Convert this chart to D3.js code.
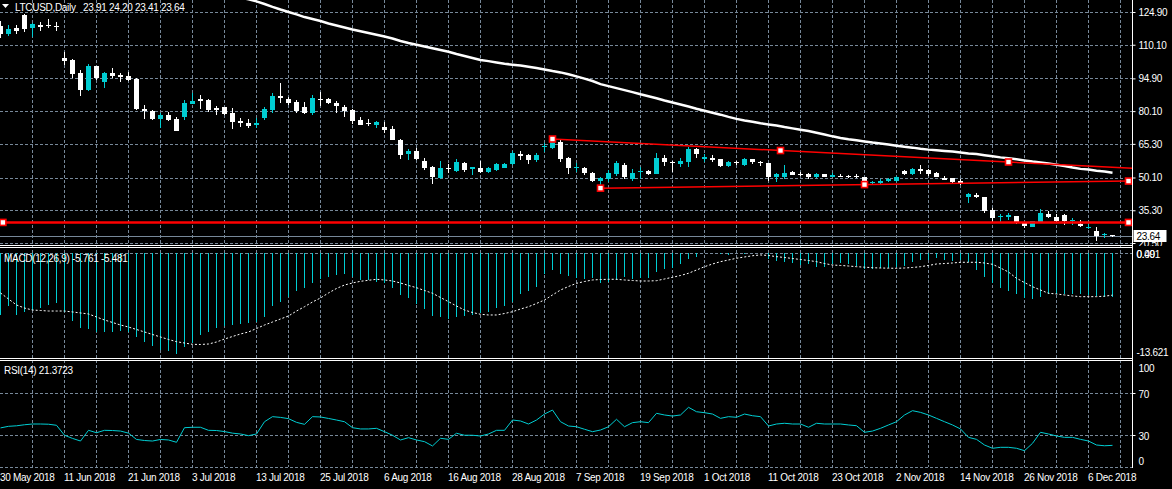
<!DOCTYPE html>
<html>
<head>
<meta charset="utf-8">
<script src="https://cdn.jsdelivr.net/npm/d3@7/dist/d3.min.js"></script>
<style>
  body { margin: 0; background: #000; }
  svg { display: block; }
  text { font-family: "Liberation Sans", Arial, sans-serif; font-size: 10px; letter-spacing: -0.3px; }
</style>
</head>
<body>
<svg id="chart" width="1172" height="489"></svg>
<script>
// daily bars, one per weekday, 30 May 2018 .. 11 Dec 2018
var opens = [118.6,114.9,117.5,123.5,117.5,119.0,119.0,118.7,104.2,103.2,
    97.4,89.6,100.6,93.4,97.4,96.4,96.0,94.8,81.1,80.2,
    76.5,78.3,76.5,77.6,83.3,85.4,85.1,81.4,81.8,79.1,
    75.8,74.6,73.8,76.9,80.6,86.9,85.6,84.1,82.1,79.1,
    85.6,85.6,83.9,82.1,80.6,76.1,74.6,73.8,73.0,72.0,
    67.0,60.7,62.2,57.6,55.0,49.7,54.5,53.0,56.8,53.8,
    54.5,52.7,53.5,54.5,56.1,60.6,60.3,58.0,63.7,63.3,
    66.3,58.8,54.2,54.5,52.0,48.5,49.4,51.7,55.7,49.4,
    52.5,53.2,51.7,59.1,57.2,56.2,57.2,63.0,58.3,58.8,
    58.3,55.3,57.1,55.8,58.5,57.2,56.5,50.2,50.2,52.5,
    51.7,51.7,50.2,51.7,50.5,50.9,50.8,50.9,50.2,47.8,
    47.5,48.7,48.4,53.2,51.6,53.9,53.5,52.3,50.0,49.7,
    48.7,41.1,42.2,41.1,35.4,32.1,32.4,32.7,30.1,27.9,
    29.7,33.6,32.4,33.1,30.4,29.1,27.4,26.0,24.1,23.91];
var highs = [120.8,119.0,119.0,124.0,120.1,120.5,121.7,120.2,106.7,103.6,
    98.7,101.4,100.6,97.9,99.4,97.2,97.9,94.9,82.9,80.6,
    79.1,79.8,77.4,85.1,88.2,87.4,85.4,82.4,82.1,81.4,
    76.9,76.5,76.9,81.8,88.2,92.7,86.6,85.1,84.4,87.4,
    88.9,86.2,84.8,82.9,80.9,77.6,76.4,75.8,75.3,73.4,
    67.5,62.8,63.3,58.8,55.3,57.6,56.2,58.5,57.2,55.0,
    57.6,55.0,56.8,56.5,62.2,62.2,60.6,61.0,65.5,67.3,
    67.3,59.2,56.8,55.0,52.7,50.5,53.5,57.7,56.5,53.8,
    55.0,53.5,61.3,60.3,57.6,58.8,63.7,63.3,60.6,60.1,
    58.5,57.7,57.6,58.8,58.5,57.7,56.8,52.3,55.7,53.0,
    52.5,52.0,52.0,51.7,52.3,51.7,51.2,51.5,50.5,48.5,
    49.3,49.7,50.8,53.5,54.2,55.7,53.8,52.7,50.8,49.7,
    49.3,43.2,43.0,41.3,36.2,33.6,33.9,32.7,30.1,30.4,
    35.7,35.1,33.6,33.5,31.9,30.9,30.4,27.6,25.1,24.20];
var lows = [113.1,114.2,115.0,116.0,113.5,116.4,117.5,116.4,100.9,94.9,
    86.9,89.3,94.2,90.7,94.9,93.4,93.8,80.6,76.5,76.1,
    72.6,75.8,71.1,76.1,83.2,81.1,79.8,78.3,78.3,72.0,
    73.0,72.3,72.3,76.1,79.4,83.6,82.9,79.1,78.8,78.3,
    82.4,83.3,79.4,77.6,74.3,73.8,73.4,72.6,70.3,67.0,
    58.5,58.0,58.0,53.5,47.1,49.4,52.0,52.7,52.7,51.2,
    52.0,52.0,53.2,54.2,55.6,58.0,56.2,57.2,61.8,62.8,
    57.2,51.7,52.7,51.2,48.2,45.6,48.2,50.8,49.4,48.6,
    49.3,51.2,51.7,55.3,52.7,55.0,55.0,58.8,57.2,57.2,
    55.0,55.0,55.7,55.4,56.2,55.4,48.5,48.2,49.4,51.2,
    50.8,49.4,49.9,50.2,50.2,50.2,49.7,49.7,46.7,47.2,
    46.7,47.9,47.9,51.2,51.2,51.7,50.9,50.2,49.0,47.5,
    46.6,38.7,41.0,34.0,29.4,30.1,30.9,29.0,27.1,27.6,
    29.4,31.7,29.7,28.6,28.6,27.6,26.7,21.5,22.6,23.41];
var closes = [114.9,117.2,116.4,117.2,119.5,118.2,118.6,118.0,102.9,96.9,
    89.6,100.6,94.9,97.4,96.1,95.7,94.2,81.1,80.2,76.5,
    78.3,76.1,71.3,83.9,84.7,84.8,80.6,80.6,78.8,75.3,
    74.6,73.5,74.6,80.9,86.9,86.2,83.9,80.2,79.4,86.2,
    85.1,83.9,82.5,80.2,75.8,73.8,74.1,75.3,71.6,67.0,
    60.3,62.2,58.5,54.5,50.5,54.5,53.8,57.2,53.5,54.7,
    52.7,54.2,56.2,56.2,61.0,60.0,58.0,60.3,64.3,66.3,
    58.5,54.2,55.0,52.0,48.6,50.0,52.0,56.8,50.2,52.3,
    53.2,51.7,58.8,57.2,56.5,57.7,63.0,60.6,59.2,58.0,
    55.4,57.2,56.5,58.5,56.9,56.5,50.5,51.7,52.0,51.2,
    51.2,50.2,51.7,50.5,51.2,50.5,50.2,50.5,47.5,48.2,
    48.7,49.3,50.5,51.7,53.9,53.0,51.7,50.5,49.0,47.9,
    47.0,42.6,41.4,35.1,31.7,32.7,33.0,30.1,28.3,30.4,
    33.9,32.4,30.4,30.4,30.7,28.2,27.7,23.7,24.5,23.64];

// moving average, from bar 30 on
var maStart = 30;
var maValues = [131.5,130.6,129.7,128.5,127.2,126.0,124.9,123.8,122.6,121.7,
    120.8,119.7,118.8,117.9,117.0,116.2,115.4,114.6,113.8,112.9,
    111.8,110.9,110.1,109.3,108.5,107.7,106.9,105.9,105.0,104.1,
    103.2,102.7,102.1,101.5,101.1,100.7,100.2,99.6,98.9,98.2,
    97.6,96.8,95.8,94.8,93.7,92.3,91.4,90.5,89.6,88.7,
    87.7,86.8,85.9,84.9,84.0,83.1,82.2,81.2,80.3,79.4,
    78.5,77.5,76.6,75.9,75.3,74.6,74.1,73.6,72.9,72.3,
    71.7,71.1,70.3,69.5,68.7,68.0,67.4,66.9,66.4,65.9,
    65.5,65.0,64.5,64.0,63.6,63.1,62.7,62.4,62.1,61.8,
    61.4,61.0,60.7,60.2,59.7,59.2,58.8,58.3,57.8,57.3,
    56.9,56.4,55.9,55.3,54.6,54.0,53.7,53.2,52.8,52.3];

var macdHist = [-8.05,-6.85,-8.05,-7.70,-7.41,-7.11,-6.76,-6.46,-7.70,-8.79,
    -9.70,-9.87,-10.21,-10.21,-10.21,-10.09,-10.21,-10.86,-11.51,-12.07,
    -12.58,-12.67,-13.06,-12.16,-11.72,-10.64,-10.21,-9.77,-9.48,-9.35,
    -9.22,-9.05,-8.92,-8.35,-6.89,-6.33,-5.76,-4.91,-4.60,-3.95,
    -3.39,-3.09,-2.87,-2.78,-3.17,-3.52,-3.52,-3.74,-3.95,-4.52,
    -5.46,-5.89,-6.67,-7.28,-8.14,-8.27,-8.57,-8.27,-8.14,-8.05,
    -7.83,-7.70,-7.19,-6.85,-6.33,-5.37,-4.95,-4.39,-2.78,-2.23,
    -2.78,-2.96,-3.22,-3.39,-3.30,-3.95,-3.82,-3.52,-3.09,-3.39,
    -3.30,-3.22,-2.52,-2.10,-1.93,-1.49,-0.80,-0.50,-0.06,-0.06,
    -0.19,-0.28,-0.06,-0.19,-0.06,-0.06,-0.80,-1.06,-1.23,-1.36,
    -1.58,-1.49,-1.80,-1.80,-1.49,-1.36,-1.49,-1.67,-2.10,-2.10,
    -1.93,-1.93,-1.80,-1.67,-1.23,-0.93,-0.93,-0.71,-0.93,-1.06,
    -0.93,-1.23,-2.23,-3.09,-3.95,-4.52,-4.95,-5.37,-5.89,-5.98,
    -5.68,-5.37,-5.37,-5.37,-5.37,-5.37,-5.46,-5.55,-5.68,-5.761];
var macdSignal = [-5.20,-5.98,-6.76,-7.15,-7.41,-7.47,-7.54,-7.54,-7.54,-7.66,
    -7.79,-7.92,-8.31,-8.70,-9.02,-9.35,-9.61,-9.93,-10.25,-10.58,
    -10.90,-11.22,-11.51,-11.68,-11.85,-11.87,-11.81,-11.55,-11.16,-10.84,
    -10.51,-10.25,-9.80,-9.35,-8.96,-8.57,-8.18,-7.54,-6.98,-6.37,
    -5.85,-5.20,-4.62,-4.17,-3.91,-3.69,-3.56,-3.43,-3.52,-3.65,
    -3.91,-4.23,-4.52,-4.88,-5.24,-5.79,-6.33,-6.89,-7.41,-7.73,
    -7.96,-8.05,-8.05,-7.86,-7.63,-7.28,-6.98,-6.56,-6.11,-5.46,
    -4.82,-4.36,-3.95,-3.72,-3.52,-3.46,-3.43,-3.43,-3.52,-3.59,
    -3.65,-3.65,-3.61,-3.39,-3.17,-2.94,-2.65,-2.23,-1.80,-1.45,
    -1.15,-0.93,-0.71,-0.54,-0.38,-0.28,-0.35,-0.50,-0.61,-0.74,
    -0.87,-1.00,-1.15,-1.39,-1.58,-1.64,-1.71,-1.80,-1.86,-1.93,
    -1.97,-1.99,-2.01,-1.97,-1.90,-1.80,-1.64,-1.45,-1.39,-1.32,
    -1.23,-1.23,-1.23,-1.32,-1.49,-1.97,-2.49,-3.30,-3.85,-4.39,
    -4.82,-5.24,-5.33,-5.46,-5.59,-5.68,-5.68,-5.68,-5.62,-5.481];
var rsiValues = [38,39.5,40,41,41.7,41.7,41.5,40.5,31,28,
    25.5,35.7,33.4,35.7,35.5,35,33,27,26,25.5,
    27,26.5,24.3,38.2,38.6,38.6,35.7,35.5,34.5,33,
    32.2,30.6,32.2,43.9,48.7,48,46.8,43.3,41.4,48.7,
    48.4,47,45.5,43.9,38.2,37,37,37.6,34.4,31,
    26.5,28.7,26.5,24.9,20.8,28.1,27.1,32.9,31,31,
    30.3,32.2,35.7,35.7,45.5,44.6,41.7,45.5,51.2,55,
    43.9,39.8,39.1,36.7,34.4,36,39.1,46.2,39.1,43,
    43.9,43,51.9,50.3,49.3,50.3,57.6,53.4,52.5,51.2,
    47.1,48.7,48.1,51.2,49.6,48.7,39.8,41.7,42.4,41.7,
    41.7,38.6,42.4,41.7,41.7,41.7,40.8,40.1,33.8,35,
    37.6,40.8,43.9,50.3,54.4,52.8,50.3,47.1,43.9,40.8,
    37,29,27.1,21.7,18.6,19.5,19.5,18.6,16.3,23.3,
    33.8,32.2,30.3,29,29,27.1,25.5,21.7,21,21.3723];

var priceTicks = [124.90, 110.10, 94.90, 80.10, 65.30, 50.10, 35.30, 20.50];
var rsiTicks = [100, 70, 30, 0];
var dateBars = [0, 8, 16, 24, 32, 40, 48, 56, 64, 72, 80, 88, 96, 104, 112, 120, 128, 136];
var dateLabels = ["30 May 2018", "11 Jun 2018", "21 Jun 2018", "3 Jul 2018", "13 Jul 2018",
    "25 Jul 2018", "6 Aug 2018", "16 Aug 2018", "28 Aug 2018", "7 Sep 2018", "19 Sep 2018",
    "1 Oct 2018", "11 Oct 2018", "23 Oct 2018", "2 Nov 2018", "14 Nov 2018", "26 Nov 2018", "6 Dec 2018"];

// drawn objects: [bar, price]
var upperLine = [[69, 67.5], [126, 57.1]];
var lowerLine = [[75, 45.3], [141, 48.5]];
var levelPrice = 29.8;
var levelMarks = [0.3, 141];
var lastPrice = 23.64;

var width = 1172, height = 489;
var plotRight = 1132.5;
var gridColor = "#778899";
var cyan = "#00cdd2";

var svg = d3.select("#chart");
svg.append("rect").attr("width", width).attr("height", height).attr("fill", "#000");

var defs = svg.append("defs");
defs.append("clipPath").attr("id", "mainClip")
    .append("rect").attr("x", 0).attr("y", 0).attr("width", plotRight).attr("height", 245);
defs.append("clipPath").attr("id", "axisClip")
    .append("rect").attr("x", 0).attr("y", 0).attr("width", width).attr("height", 246);

var x = d3.scaleLinear().domain([0, 140]).range([0.5, 1120.5]);
var yPrice = d3.scaleLinear().domain([20.05, 130.32]).range([244, 0]);
var yMacd = d3.scaleLinear().domain([-13.621, 0.491]).range([358, 249]);
var yRsi = d3.scaleLinear().domain([0, 100]).range([467.8, 362.8]);

var lastBar = x.invert(plotRight);

// grid
var grid = svg.append("g")
    .attr("stroke", gridColor)
    .attr("stroke-dasharray", "3,2")
    .attr("shape-rendering", "crispEdges");

var vBars = d3.range(4, lastBar, 4);
grid.selectAll("line.v")
    .data(vBars)
    .enter()
    .append("line")
        .attr("x1", d => x(d)).attr("x2", d => x(d))
        .attr("y1", 0).attr("y2", 467);

grid.selectAll("line.p")
    .data(priceTicks)
    .enter()
    .append("line")
        .attr("x1", 0).attr("x2", plotRight)
        .attr("y1", d => Math.round(yPrice(d)) + 0.5)
        .attr("y2", d => Math.round(yPrice(d)) + 0.5);

grid.append("line")
    .attr("x1", 0).attr("x2", plotRight)
    .attr("y1", Math.round(yMacd(0)) + 0.5).attr("y2", Math.round(yMacd(0)) + 0.5);

grid.selectAll("line.r")
    .data([70, 30, 0])
    .enter()
    .append("line")
        .attr("x1", 0).attr("x2", plotRight)
        .attr("y1", d => Math.round(yRsi(d)) - 0.5)
        .attr("y2", d => Math.round(yRsi(d)) - 0.5);

// main panel
var main = svg.append("g").attr("clip-path", "url(#mainClip)");

main.append("line")
    .attr("x1", 0).attr("x2", plotRight)
    .attr("y1", Math.round(yPrice(lastPrice)) + 0.5)
    .attr("y2", Math.round(yPrice(lastPrice)) + 0.5)
    .attr("stroke", gridColor)
    .attr("shape-rendering", "crispEdges");

var bars = opens.map(function(o, i) {
    return {i: i, o: o, h: highs[i], l: lows[i], c: closes[i]};
});

var candle = main.selectAll("g.candle")
    .data(bars)
    .enter()
    .append("g")
        .attr("shape-rendering", "crispEdges");

candle.append("line")
    .attr("x1", d => x(d.i)).attr("x2", d => x(d.i))
    .attr("y1", d => yPrice(d.h)).attr("y2", d => yPrice(d.l))
    .attr("stroke", d => d.c >= d.o ? cyan : "#fff");

candle.append("rect")
    .attr("x", d => x(d.i) - 2.5)
    .attr("width", 5)
    .attr("y", d => yPrice(Math.max(d.o, d.c)))
    .attr("height", d => Math.max(1, yPrice(Math.min(d.o, d.c)) - yPrice(Math.max(d.o, d.c))))
    .attr("fill", d => d.c >= d.o ? cyan : "#fff");

var maLine = d3.line()
    .x((d, k) => x(maStart + k))
    .y(d => yPrice(d));

main.append("path")
    .datum(maValues)
    .attr("d", maLine)
    .attr("fill", "none")
    .attr("stroke", "#fff")
    .attr("stroke-width", 2.5);

// trend lines and level
function priceAt(line, bar) {
    var a = line[0], b = line[1];
    return a[1] + (b[1] - a[1]) * (bar - a[0]) / (b[0] - a[0]);
}

var upperEnd = [lastBar, priceAt(upperLine, lastBar)];

main.append("path")
    .datum([upperLine[0], upperEnd])
    .attr("d", d3.line().x(d => x(d[0])).y(d => yPrice(d[1])))
    .attr("stroke", "#ff0000").attr("stroke-width", 1.5).attr("fill", "none");

main.append("path")
    .datum(lowerLine)
    .attr("d", d3.line().x(d => x(d[0])).y(d => yPrice(d[1])))
    .attr("stroke", "#ff0000").attr("stroke-width", 1.5).attr("fill", "none");

main.append("line")
    .attr("x1", 0).attr("x2", plotRight)
    .attr("y1", yPrice(levelPrice)).attr("y2", yPrice(levelPrice))
    .attr("stroke", "#ff0000").attr("stroke-width", 2.5);

var marks = [];
[upperLine, lowerLine].forEach(function(line) {
    var mid = (line[0][0] + line[1][0]) / 2;
    marks.push(line[0], [mid, priceAt(line, mid)], line[1]);
});
levelMarks.forEach(function(b) { marks.push([b, levelPrice]); });

main.selectAll("rect.mark")
    .data(marks)
    .enter()
    .append("rect")
        .attr("x", d => x(d[0]) - 3)
        .attr("y", d => yPrice(d[1]) - 3)
        .attr("width", 6).attr("height", 6)
        .attr("fill", "#fff")
        .attr("stroke", "#ff0000")
        .attr("stroke-width", 1.6);

// MACD panel
svg.append("g")
    .selectAll("line")
    .data(macdHist)
    .enter()
    .append("line")
        .attr("x1", (d, i) => x(i)).attr("x2", (d, i) => x(i))
        .attr("y1", yMacd(0)).attr("y2", d => yMacd(d))
        .attr("stroke", cyan)
        .attr("shape-rendering", "crispEdges");

svg.append("path")
    .datum(macdSignal)
    .attr("d", d3.line().x((d, i) => x(i)).y(d => yMacd(d)))
    .attr("fill", "none")
    .attr("stroke", "#fff")
    .attr("stroke-dasharray", "2,2");

// RSI panel
svg.append("path")
    .datum(rsiValues)
    .attr("d", d3.line().x((d, i) => x(i)).y(d => yRsi(d)))
    .attr("fill", "none")
    .attr("stroke", cyan);

// frames
var frame = svg.append("g").attr("stroke", "#fff").attr("shape-rendering", "crispEdges");
[245.5, 247.5, 358.5, 360.5].forEach(function(y) {
    frame.append("line").attr("x1", 0).attr("x2", plotRight).attr("y1", y).attr("y2", y);
});
frame.append("line").attr("x1", plotRight).attr("x2", plotRight).attr("y1", 0).attr("y2", 468);

// price axis
var priceAxis = svg.append("g")
    .attr("transform", "translate(" + plotRight + ",0)")
    .attr("clip-path", "url(#axisClip)")
    .style("color", "#fff")
    .call(d3.axisRight(yPrice).tickValues(priceTicks).tickFormat(d3.format(".2f")).tickSize(3).tickPadding(3));
priceAxis.select(".domain").remove();
priceAxis.selectAll("text").attr("dy", "0.34em");

svg.append("rect")
    .attr("x", plotRight + 1).attr("y", Math.round(yPrice(lastPrice)) - 6)
    .attr("width", 33).attr("height", 12)
    .attr("fill", "#fff");
svg.append("text")
    .attr("x", plotRight + 4).attr("y", Math.round(yPrice(lastPrice)) + 4)
    .attr("fill", "#000")
    .text(d3.format(".2f")(lastPrice));

// MACD / RSI scale labels
var macdLabels = [[0.491, "0.491"], [0, "0.00"], [-13.621, "-13.621"]];
svg.selectAll("text.macd")
    .data(macdLabels)
    .enter()
    .append("text")
        .attr("x", plotRight + 4)
        .attr("y", d => Math.min(355.5, Math.max(257.5, yMacd(d[0]) + 3.5)))
        .attr("fill", "#fff")
        .text(d => d[1]);

svg.selectAll("text.rsi")
    .data(rsiTicks)
    .enter()
    .append("text")
        .attr("x", plotRight + 6)
        .attr("y", d => Math.min(464.5, Math.max(371.5, yRsi(d) + 3.5)))
        .attr("fill", "#fff")
        .text(d => d);

svg.selectAll("line.rtick")
    .data([70, 30])
    .enter()
    .append("line")
        .attr("x1", plotRight).attr("x2", plotRight + 3)
        .attr("y1", d => Math.round(yRsi(d)) - 0.5).attr("y2", d => Math.round(yRsi(d)) - 0.5)
        .attr("stroke", "#fff");

// time axis
var timeAxis = svg.append("g")
    .attr("transform", "translate(0,467)")
    .style("color", "#fff")
    .call(d3.axisBottom(x).tickValues(dateBars).tickFormat((d, i) => dateLabels[i]).tickSize(0));
timeAxis.select(".domain").remove();
timeAxis.selectAll("text")
    .attr("y", 13.5).attr("dy", null)
    .attr("x", -1)
    .attr("text-anchor", "start");

// titles
svg.append("path")
    .attr("d", "M2,4L9,4L5.5,8Z")
    .attr("fill", "#fff");
svg.append("text").attr("x", 15).attr("y", 10.5).attr("fill", "#fff").text("LTCUSD,Daily");
svg.append("text").attr("x", 83).attr("y", 10.5).attr("fill", "#fff").text("23.91 24.20 23.41 23.64");
svg.append("text").attr("x", 4).attr("y", 261.5).attr("fill", "#fff").text("MACD(12,26,9) -5.761 -5.481");
svg.append("text").attr("x", 4).attr("y", 374).attr("fill", "#fff").text("RSI(14) 21.3723");
</script>
</body>
</html>
